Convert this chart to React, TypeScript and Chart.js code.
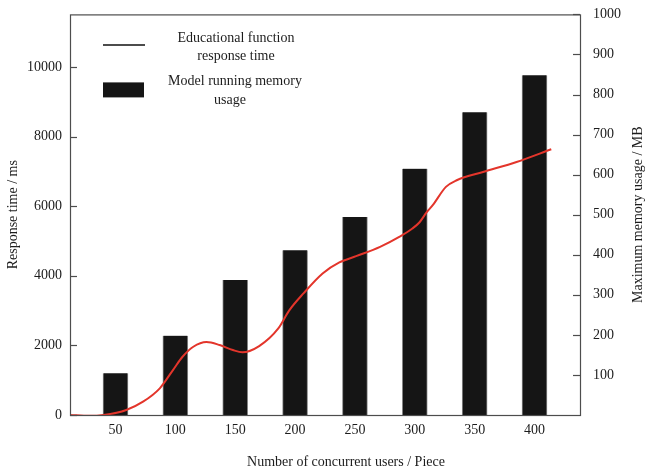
import React, { useEffect, useRef } from "react";
import { Chart, registerables } from "chart.js";

Chart.register(...registerables);

// ---- data ----
const users = [50, 100, 150, 200, 250, 300, 350, 400];
const memoryMB = [104, 198, 337, 411, 494, 615, 756, 848];

const curveUsers = [12, 28, 40, 59, 73, 87, 98, 106, 115, 126, 137, 148, 156, 170, 186, 195, 207, 223, 237, 251, 271, 287, 298, 304, 310, 315, 326, 335, 357, 385, 414];
const responseMs = [0, -25, 0, 144, 382, 767, 1292, 1674, 1961, 2096, 2010, 1866, 1800, 1981, 2489, 3000, 3494, 4068, 4384, 4565, 4832, 5119, 5360, 5540, 5830, 6029, 6555, 6747, 6985, 7272, 7637];

const leftTicks = [0, 2000, 4000, 6000, 8000, 10000];
const rightTicks = [100, 200, 300, 400, 500, 600, 700, 800, 900, 1000];

const xTitle = "Number of concurrent users / Piece";
const yLeftTitle = "Response time / ms";
const yRightTitle = "Maximum memory usage / MB";
const legendLine = ["Educational function", "response time"];
const legendBar = ["Model running memory", "usage"];

const FONT = "'Liberation Serif', 'Times New Roman', serif";
const TEXT = "#1c1c1c";
const FRAME = "#4d4d4d";

const decorPlugin = {
  id: "decor",
  afterDraw(chart: any) {
    const { ctx, chartArea } = chart;
    const { left, right, top, bottom } = chartArea;
    ctx.save();
    // frame
    ctx.strokeStyle = FRAME;
    ctx.lineWidth = 1.2;
    ctx.strokeRect(left + 0.5, top + 0.5, right - left, bottom - top);
    // inward tick marks
    const yl = chart.scales.y;
    yl.ticks.forEach((t: any) => {
      const p = Math.round(yl.getPixelForValue(t.value)) + 0.5;
      ctx.beginPath();
      ctx.moveTo(left, p);
      ctx.lineTo(left + 7, p);
      ctx.stroke();
    });
    const yr = chart.scales.y1;
    yr.ticks.forEach((t: any) => {
      const p = Math.round(yr.getPixelForValue(t.value)) + 0.5;
      ctx.beginPath();
      ctx.moveTo(right - 7, p);
      ctx.lineTo(right, p);
      ctx.stroke();
    });
    // titles
    ctx.fillStyle = TEXT;
    ctx.font = `14px ${FONT}`;
    ctx.textAlign = "center";
    ctx.textBaseline = "middle";
    const cy = (top + bottom) / 2;
    ctx.save();
    ctx.translate(13, cy);
    ctx.rotate(-Math.PI / 2);
    ctx.fillText(yLeftTitle, 0, 0);
    ctx.restore();
    ctx.save();
    ctx.translate(chart.width - 8, cy);
    ctx.rotate(-Math.PI / 2);
    ctx.fillText(yRightTitle, 0, 0);
    ctx.restore();
    ctx.fillText(xTitle, (left + right) / 2 + 21, bottom + 47);
    // legend
    ctx.strokeStyle = "#111";
    ctx.lineWidth = 1.5;
    ctx.beginPath();
    ctx.moveTo(left + 33, top + 30.5);
    ctx.lineTo(left + 75, top + 30.5);
    ctx.stroke();
    ctx.fillStyle = "#151515";
    ctx.fillRect(left + 33, top + 68, 41, 15);
    ctx.fillStyle = TEXT;
    ctx.fillText(legendLine[0], left + 166, top + 24);
    ctx.fillText(legendLine[1], left + 166, top + 42);
    ctx.fillText(legendBar[0], left + 165, top + 67);
    ctx.fillText(legendBar[1], left + 160, top + 86);
    ctx.restore();
  },
};

export default function App() {
  const ref = useRef<HTMLCanvasElement | null>(null);
  useEffect(() => {
    if (!ref.current) return;
    const tickFont = { family: FONT, size: 14 };
    const plain = (v: any) => String(v);
    const chart = new Chart(ref.current, {
      data: {
        datasets: [
          {
            type: "line",
            label: legendLine.join(" "),
            data: curveUsers.map((x, i) => ({ x, y: responseMs[i] })),
            yAxisID: "y",
            xAxisID: "x",
            borderColor: "#e3352b",
            borderWidth: 2,
            pointRadius: 0,
            cubicInterpolationMode: "monotone",
            order: 1,
          },
          {
            type: "bar",
            label: legendBar.join(" "),
            data: users.map((x, i) => ({ x, y: memoryMB[i] })),
            yAxisID: "y1",
            xAxisID: "x",
            backgroundColor: "#151515",
            borderColor: "#8a8a8a",
            borderWidth: { left: 1, right: 1, top: 0, bottom: 0 },
            borderSkipped: false,
            barThickness: 25,
            order: 2,
          },
        ] as any,
      },
      options: {
        responsive: false,
        animation: false,
        devicePixelRatio: 1,
        layout: { padding: { top: 7, left: 0, right: 0, bottom: 0 } },
        plugins: { legend: { display: false }, tooltip: { enabled: false } },
        scales: {
          x: {
            type: "linear",
            position: "bottom",
            offset: false,
            min: 12,
            max: 438,
            grid: { display: false, drawTicks: false, offset: false },
            border: { display: false },
            ticks: { font: tickFont, color: TEXT, padding: 7, maxRotation: 0, callback: plain },
            afterBuildTicks: (s: any) => {
              s.ticks = users.map((v) => ({ value: v }));
            },
            afterFit: (s: any) => {
              s.height = 58;
            },
          },
          y: {
            type: "linear",
            position: "left",
            min: 0,
            max: 11513,
            grid: { display: false, drawTicks: false },
            border: { display: false },
            ticks: { font: tickFont, color: TEXT, padding: 8, callback: plain },
            afterBuildTicks: (s: any) => {
              s.ticks = leftTicks.map((v) => ({ value: v }));
            },
            afterFit: (s: any) => {
              s.width = 70;
            },
          },
          y1: {
            type: "linear",
            position: "right",
            min: 0,
            max: 1000,
            grid: { display: false, drawTicks: false },
            border: { display: false },
            ticks: { font: tickFont, color: TEXT, padding: 13, callback: plain },
            afterBuildTicks: (s: any) => {
              s.ticks = rightTicks.map((v) => ({ value: v }));
            },
            afterFit: (s: any) => {
              s.width = 66;
            },
          },
        },
      } as any,
      plugins: [decorPlugin],
    });
    return () => chart.destroy();
  }, []);
  return (
    <div style={{ position: "fixed", left: 0, top: 0, width: 646, height: 473, overflow: "hidden", background: "#fff" }}>
      <canvas
        ref={ref}
        width={646}
        height={480}
        style={{ width: 646, height: 480, display: "block", marginTop: -7 }}
      />
    </div>
  );
}
